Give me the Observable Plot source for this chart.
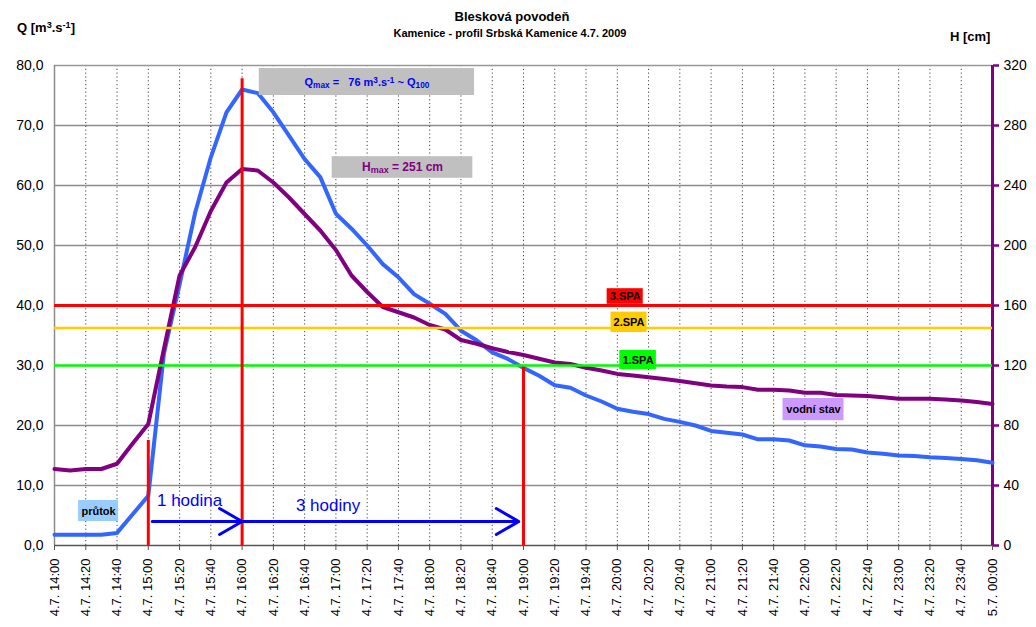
<!DOCTYPE html>
<html>
<head>
<meta charset="utf-8">
<script src="https://cdn.jsdelivr.net/npm/d3@7"></script>
<script src="https://cdn.jsdelivr.net/npm/@observablehq/plot@0.6"></script>
<style>
  html, body { margin: 0; padding: 0; background: #fff; }
  #wrap { position: relative; width: 1036px; height: 627px; font-family: "Liberation Sans", Arial, sans-serif; }
  #wrap svg { position: absolute; left: 0; top: 0; }
  .lbl { position: absolute; line-height: 1; font-weight: bold; color: #000; white-space: nowrap; }
  .lbl sup { font-size: 70%; vertical-align: 0.45em; line-height: 0; }
</style>
</head>
<body>
<div id="wrap">
  <div class="lbl" style="left:0;width:1024px;text-align:center;top:10px;font-size:13px;">Blesková povodeň</div>
  <div class="lbl" style="left:0;width:1020px;text-align:center;top:27.5px;font-size:11px;">Kamenice - profil Srbská Kamenice 4.7. 2009</div>
  <div class="lbl" style="left:17px;top:20.5px;font-size:13px;">Q [m<sup>3</sup>.s<sup>-1</sup>]</div>
  <div class="lbl" style="left:950px;top:30px;font-size:13px;">H [cm]</div>
</div>
<script>
// ---- data ----
const times = ["14:00","14:10","14:20","14:30","14:40","14:50","15:00","15:10","15:20","15:30",
  "15:40","15:50","16:00","16:10","16:20","16:30","16:40","16:50","17:00","17:10",
  "17:20","17:30","17:40","17:50","18:00","18:10","18:20","18:30","18:40","18:50",
  "19:00","19:10","19:20","19:30","19:40","19:50","20:00","20:10","20:20","20:30",
  "20:40","20:50","21:00","21:10","21:20","21:30","21:40","21:50","22:00","22:10",
  "22:20","22:30","22:40","22:50","23:00","23:10","23:20","23:30","23:40","23:50","00:00"];
// průtok Q [m3/s]
const discharge = [1.8,1.8,1.8,1.8,2.1,5.2,8.3,32.0,43.5,55.5,
  64.7,72.2,76.0,75.4,72.2,68.3,64.4,61.4,55.3,52.8,
  50.0,46.9,44.7,41.9,40.3,38.6,35.8,34.2,32.2,31.1,
  29.6,28.3,26.7,26.3,25.0,24.0,22.8,22.3,21.9,21.1,
  20.6,20.0,19.1,18.8,18.5,17.7,17.7,17.5,16.7,16.5,
  16.1,16.0,15.5,15.3,15.0,14.9,14.7,14.6,14.4,14.2,13.8];
// vodní stav H [cm]
const stage = [51,50,51,51,54.5,68,81,131,180,199,
  223,242,251,250,242,232,221,210,197,180,
  169,159,155.5,152,147,144,137,134.5,131.5,129,
  127,124.5,122,121,118.5,116.7,114.4,113.3,112.2,111,
  109.6,108.2,106.7,106,105.6,103.8,103.8,103.3,101.8,101.8,
  100.4,100,99.6,98.9,97.8,97.8,97.8,97.3,96.7,95.6,94.4];
const tickLabels = ["4.7. 14:00","4.7. 14:20","4.7. 14:40","4.7. 15:00","4.7. 15:20","4.7. 15:40",
  "4.7. 16:00","4.7. 16:20","4.7. 16:40","4.7. 17:00","4.7. 17:20","4.7. 17:40","4.7. 18:00",
  "4.7. 18:20","4.7. 18:40","4.7. 19:00","4.7. 19:20","4.7. 19:40","4.7. 20:00","4.7. 20:20",
  "4.7. 20:40","4.7. 21:00","4.7. 21:20","4.7. 21:40","4.7. 22:00","4.7. 22:20","4.7. 22:40",
  "4.7. 23:00","4.7. 23:20","4.7. 23:40","5.7. 00:00"];
const qTicks = [0,10,20,30,40,50,60,70,80];
const hScale = 4; // H [cm] = 4 × Q-axis units (0–320 vs 0–80)
// stupně povodňové aktivity (H, cm)
const spaLevels = [
  {name: "1.SPA", h: 120, color: "#00FF00"},
  {name: "2.SPA", h: 145, color: "#FFCC00"},
  {name: "3.SPA", h: 160, color: "#FF0000"}
];
// annotations: red time markers and arrows
const markers = [{time: "15:00", top: 17.5}, {time: "16:00", top: 77.8}, {time: "19:00", top: 29.7}];
const arrows = [{from: "15:02.5", to: "16:00", q: 4.0}, {from: "16:00", to: "18:57", q: 4.0}];
const arrowTexts = [{time: "15:26.4", q: 7.45, text: "1 hodina"}, {time: "16:55", q: 6.6, text: "3 hodiny"}];
const boxes = [
  {t1: "14:15.4", t2: "14:41", q1: 4.0, q2: 7.5, fill: "#99CCFF", color: "#000", size: 11, text: "průtok"},
  {t1: "16:11", t2: "18:28.7", q1: 75.0, q2: 79.5, fill: "#C0C0C0", color: "#0000FF", size: 11, text: "Q_{max} =\u00a0\u00a0 76 m^{3}.s^{-1} ~ Q_{100}"},
  {t1: "16:57.6", t2: "18:27.6", q1: 61.2, q2: 64.8, fill: "#C0C0C0", color: "#800080", size: 12, text: "H_{max} = 251 cm"},
  {t1: "19:53.5", t2: "20:16.6", q1: 40.2, q2: 42.8, fill: "#FF0000", color: "#000", size: 11, text: "3.SPA"},
  {t1: "19:56", t2: "20:19", q1: 35.5, q2: 38.9, fill: "#FFCC00", color: "#000", size: 11, text: "2.SPA"},
  {t1: "20:01.6", t2: "20:25", q1: 29.3, q2: 32.5, fill: "#00FF00", color: "#000", size: 11, text: "1.SPA"},
  {t1: "21:46", t2: "22:25", q1: 20.8, q2: 24.5, fill: "#CC99FF", color: "#000", size: 11, text: "vodní stav"}
];

// minutes since 4.7. 14:00
function mins(s) {
  const hm = s.split(" ").pop();
  const [h, m] = hm.split(":").map(Number);
  const v = (((h - 14) * 60 + m) + 1440) % 1440;
  return (v === 0 && hm !== "14:00") ? 600 : v;
}
const series = times.map((t, i) => ({t: mins(t), q: discharge[i], h: stage[i]}));
const tickMins = tickLabels.map(mins);
const labelOf = new Map(tickMins.map((m, i) => [m, tickLabels[i]]));

const font = "'Liberation Sans', Arial, sans-serif";
const svg = Plot.plot({
  width: 1036, height: 627,
  marginTop: 65, marginBottom: 82, marginLeft: 54, marginRight: 44,
  style: {fontFamily: font, background: "transparent", color: "#000"},
  x: {type: "linear", domain: [0, 600]},
  y: {domain: [0, 80]},
  color: {type: "identity"},
  marks: [
    Plot.ruleY(qTicks.slice(1, -1), {stroke: "#8c8c8c", strokeWidth: 1.5}),
    Plot.ruleX(tickMins.slice(1, -1), {stroke: "#444", strokeWidth: 1, strokeDasharray: "1.2,2.6"}),
    Plot.ruleY([80], {stroke: "#999", strokeWidth: 1.5}),
    Plot.ruleX([0], {stroke: "#8c8c8c", strokeWidth: 1.5}),
    Plot.ruleY([0], {stroke: "#555", strokeWidth: 1.5}),
    Plot.axisX(tickMins, {anchor: "bottom", tickSize: 5, tickPadding: 8, tickRotate: -90, fontSize: 13,
      tickFormat: d => labelOf.get(d), label: null, stroke: "#555"}),
    Plot.axisY(qTicks, {anchor: "left", tickSize: 0, tickPadding: 11, fontSize: 14,
      tickFormat: d => d.toFixed(1).replace(".", ","), label: null}),
    Plot.axisY(qTicks, {anchor: "right", tickSize: 6, tickPadding: 5, fontSize: 14, stroke: "#800080", strokeWidth: 2.5, fill: "#000",
      tickFormat: d => String(d * hScale), label: null}),
    Plot.ruleX([600], {stroke: "#800080", strokeWidth: 3}),
    Plot.line(series, {x: "t", y: "q", stroke: "#3366FF", strokeWidth: 4}),
    Plot.line(series, {x: "t", y: d => d.h / hScale, stroke: "#800080", strokeWidth: 4}),
    Plot.ruleY(spaLevels, {y: d => d.h / hScale, stroke: "color", strokeWidth: d => d.name === "3.SPA" ? 3 : 2.5}),
    Plot.ruleX(markers, {x: d => mins(d.time), y1: 0, y2: "top", stroke: "#FF0000", strokeWidth: 3}),
    Plot.arrow(arrows, {x1: d => mins(d.from), x2: d => mins(d.to), y1: "q", y2: "q",
      stroke: "#0000FF", strokeWidth: 3, headLength: 13, headAngle: 60}),
    Plot.text(arrowTexts, {x: d => mins(d.time), y: "q", text: "text", fill: "#0000FF", fontSize: 17}),
    Plot.rect(boxes, {x1: d => mins(d.t1), x2: d => mins(d.t2), y1: "q1", y2: "q2", fill: "fill"}),
    Plot.text(boxes, {x: d => (mins(d.t1) + mins(d.t2)) / 2, y: d => (d.q1 + d.q2) / 2, text: "text",
      fill: "color", fontSize: "size", fontWeight: "bold"})
  ]
});

// sub/superscripts in box texts
svg.querySelectorAll("text").forEach(t => {
  const s = t.textContent;
  if (!/[_^]\{/.test(s)) return;
  while (t.firstChild) t.removeChild(t.firstChild);
  const re = /([_^])\{([^}]*)\}|([^_^]+)/g;
  let m;
  while ((m = re.exec(s))) {
    const ts = document.createElementNS("http://www.w3.org/2000/svg", "tspan");
    if (m[1]) {
      ts.textContent = m[2];
      ts.setAttribute("baseline-shift", m[1] === "_" ? "-25%" : "35%");
      ts.setAttribute("font-size", "75%");
    } else ts.textContent = m[3];
    t.appendChild(ts);
  }
});

document.getElementById("wrap").prepend(svg);
</script>
</body>
</html>
